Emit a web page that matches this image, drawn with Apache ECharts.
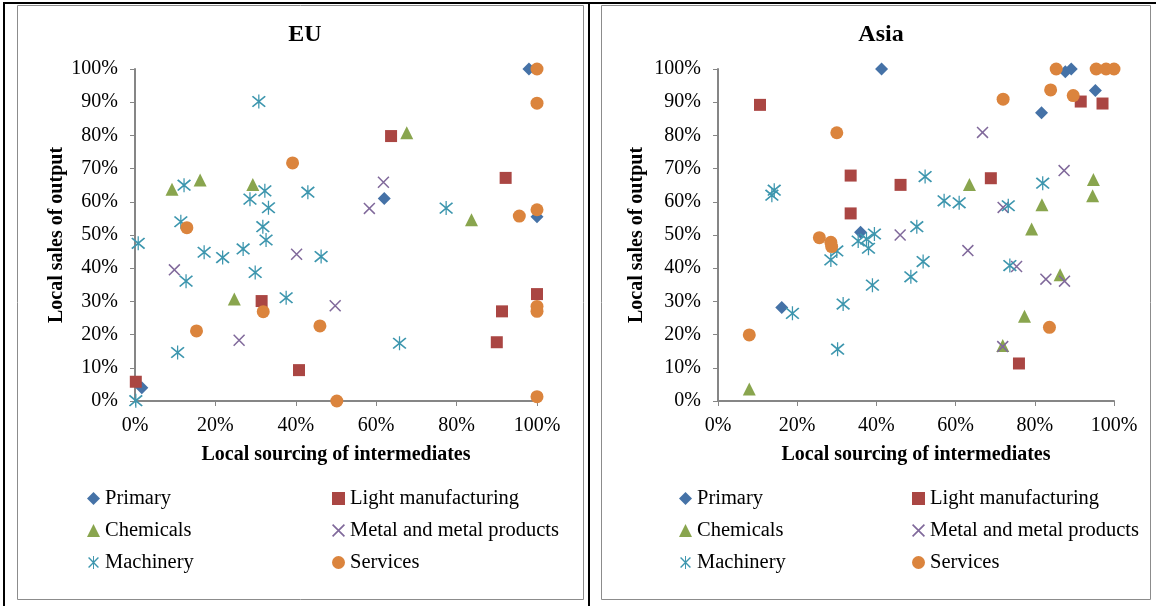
<!DOCTYPE html>
<html>
<head>
<meta charset="utf-8">
<script src="https://cdn.jsdelivr.net/npm/echarts@6/dist/echarts.min.js"></script>
<style>
html,body{margin:0;padding:0;background:#fff;}
#c{width:1156px;height:606px;}
</style>
</head>
<body>
<div id="c"></div>
<script>
// ---- data (percent) ----
const seriesNames = ['Primary','Light manufacturing','Chemicals','Metal and metal products','Machinery','Services'];
const xTicks = [0,20,40,60,80,100];
const yTicks = [0,10,20,30,40,50,60,70,80,90,100];

const euPrimary = [[98,100],[62,61],[100,55.5],[1.7,4]];
const euLight = [[0.2,5.8],[31.5,30.1],[40.8,9.3],[63.7,79.8],[92.2,67.2],[100,32.2],[91.3,27],[90,17.7]];
const euChemicals = [[9.2,63.8],[16.2,66.6],[29.3,65.2],[67.6,80.8],[83.7,54.6],[24.7,30.7]];
const euMetal = [[61.8,65.9],[58.3,58],[9.8,39.5],[25.9,18.3],[40.2,44.2],[49.8,28.7]];
const euMachinery = [[30.8,90.2],[12.2,65],[32.3,63.3],[43,62.9],[28.6,60.8],[33.2,58.2],[11.4,54],[31.8,52.5],[0.8,47.5],[17.2,44.8],[21.8,43.2],[26.9,45.8],[32.6,48.5],[46.3,43.5],[12.7,36.1],[29.9,38.7],[37.6,31.1],[10.6,14.6],[0.2,0.1],[65.8,17.4],[77.4,58.1]];
const euServices = [[39.2,71.7],[12.9,52.2],[100,100],[100,89.7],[95.6,55.7],[100,57.6],[15.3,21.1],[31.9,26.9],[46,22.6],[50.2,0],[100,1.3],[100,28.5],[100,27]];

const asiaPrimary = [[41.3,100],[36,50.8],[87.7,99.2],[89.2,100],[95.3,93.5],[81.7,86.8],[16.1,28.2]];
const asiaLight = [[10.6,89.2],[33.5,67.9],[46.1,65.1],[33.5,56.5],[91.6,90.2],[97.1,89.6],[68.9,67.1],[76,11.3]];
const asiaChemicals = [[63.5,65.2],[94.8,66.7],[94.6,61.8],[81.8,59.1],[79.2,51.8],[86.4,38],[77.4,25.5],[71.9,16.7],[7.9,3.6]];
const asiaMetal = [[66.8,80.9],[87.4,69.4],[72,58.3],[46,50],[63.1,45.3],[75.4,40.5],[82.8,36.7],[87.5,36.1],[71.9,16.4]];
const asiaMachinery = [[14.2,63.5],[13.6,62],[39.5,50.3],[50.2,52.5],[52.3,67.6],[57.1,60.3],[60.9,59.7],[82,65.6],[73.3,58.8],[35.4,48.2],[38,46],[30,45.2],[28.5,42.5],[37.5,48.8],[48.7,37.4],[39,34.9],[31.6,29.2],[18.8,26.4],[30.2,15.6],[51.8,42],[73.7,40.8]];
const asiaServices = [[85.4,100],[95.5,100],[98,100],[100,100],[84,93.7],[89.7,92],[72,90.9],[30,80.8],[25.6,49.2],[28.5,47.8],[28.7,46.5],[7.9,19.9],[83.7,22.2]];

const euData = [euPrimary, euLight, euChemicals, euMetal, euMachinery, euServices];
const asiaData = [asiaPrimary, asiaLight, asiaChemicals, asiaMetal, asiaMachinery, asiaServices];

// ---- styles ----
const colors = ['#4572A7','#AA4643','#89A54E','#80699B','#3D96AE','#DB843D'];
const crossPath = 'path://M0,0.9 L0.9,0 L10,9.1 L9.1,10 Z M9.1,0 L10,0.9 L0.9,10 L0,9.1 Z';
const starPath = 'path://M0,0.9 L0.9,0 L10,9.1 L9.1,10 Z M9.1,0 L10,0.9 L0.9,10 L0,9.1 Z M4.55,-1 L5.45,-1 L5.45,11 L4.55,11 Z';
const symbols = ['diamond','rect','triangle',crossPath,starPath,'circle'];
const sizes = [13,12,13,12,14,13];
const FONT = '"Liberation Serif","Times New Roman",serif';
const axisGray = '#868686';

function axes(idx) {
  const common = {
    gridIndex: idx, type: 'value', min: 0, max: 100,
    axisLine: {show: true, lineStyle: {color: axisGray, width: 2}},
    axisTick: {show: true, inside: false, length: 5, lineStyle: {color: axisGray, width: 1}},
    splitLine: {show: false},
    axisLabel: {formatter: '{value}%', fontFamily: FONT, fontSize: 20, color: '#000'},
    nameLocation: 'middle',
    nameTextStyle: {fontFamily: FONT, fontSize: 20, fontWeight: 'bold', color: '#000'}
  };
  return {
    x: Object.assign({}, common, {interval: 20, name: 'Local sourcing of intermediates', nameGap: 44,
      axisLabel: Object.assign({}, common.axisLabel, {margin: 15})}),
    y: Object.assign({}, common, {interval: 10, name: 'Local sales of output', nameGap: 68,
      axisLabel: Object.assign({}, common.axisLabel, {margin: 17})})
  };
}
const a0 = axes(0), a1 = axes(1);

const series = [];
[euData, asiaData].forEach((set, gi) => {
  set.forEach((d, i) => {
    series.push({
      name: seriesNames[i], type: 'scatter', xAxisIndex: gi, yAxisIndex: gi,
      data: d, symbol: symbols[i], symbolSize: sizes[i],
      itemStyle: {color: colors[i], opacity: 1},
      emphasis: {disabled: true}
    });
  });
});

function legend(left, names) {
  return {
    left: left, top: 483, orient: 'vertical', itemWidth: 13, itemHeight: 13, itemGap: 11,
    data: names, selectedMode: false,
    textStyle: {fontFamily: FONT, fontSize: 20.5, color: '#000', lineHeight: 20}
  };
}

const option = {
  animation: false,
  backgroundColor: '#fff',
  title: [
    {text: 'EU', left: 300, top: 18, textAlign: 'center', textStyle: {fontFamily: FONT, fontSize: 24, fontWeight: 'bold', color: '#000'}},
    {text: 'Asia', left: 876, top: 18, textAlign: 'center', textStyle: {fontFamily: FONT, fontSize: 24, fontWeight: 'bold', color: '#000'}}
  ],
  grid: [
    {left: 135, top: 69, width: 402, height: 332},
    {left: 718, top: 69, width: 396, height: 332}
  ],
  xAxis: [a0.x, a1.x],
  yAxis: [a0.y, Object.assign({}, a1.y, {nameGap: 71})],
  legend: [
    legend(82, ['Primary','Chemicals','Machinery']),
    legend(327, ['Light manufacturing','Metal and metal products','Services']),
    legend(674, ['Primary','Chemicals','Machinery']),
    legend(907, ['Light manufacturing','Metal and metal products','Services'])
  ],
  graphic: [
    {type: 'rect', shape: {x: 17.5, y: 5.5, width: 566, height: 594}, style: {fill: 'none', stroke: '#8c8c8c', lineWidth: 1}, silent: true},
    {type: 'rect', shape: {x: 601.5, y: 5.5, width: 549, height: 594}, style: {fill: 'none', stroke: '#8c8c8c', lineWidth: 1}, silent: true},
    {type: 'rect', shape: {x: 3, y: 2, width: 1153, height: 2}, style: {fill: '#000'}, silent: true},
    {type: 'rect', shape: {x: 3, y: 2, width: 2, height: 604}, style: {fill: '#000'}, silent: true},
    {type: 'rect', shape: {x: 588, y: 2, width: 2, height: 604}, style: {fill: '#000'}, silent: true}
  ],
  series: series
};

const chart = echarts.init(document.getElementById('c'), null, {renderer: 'canvas'});
chart.setOption(option);
</script>
</body>
</html>
